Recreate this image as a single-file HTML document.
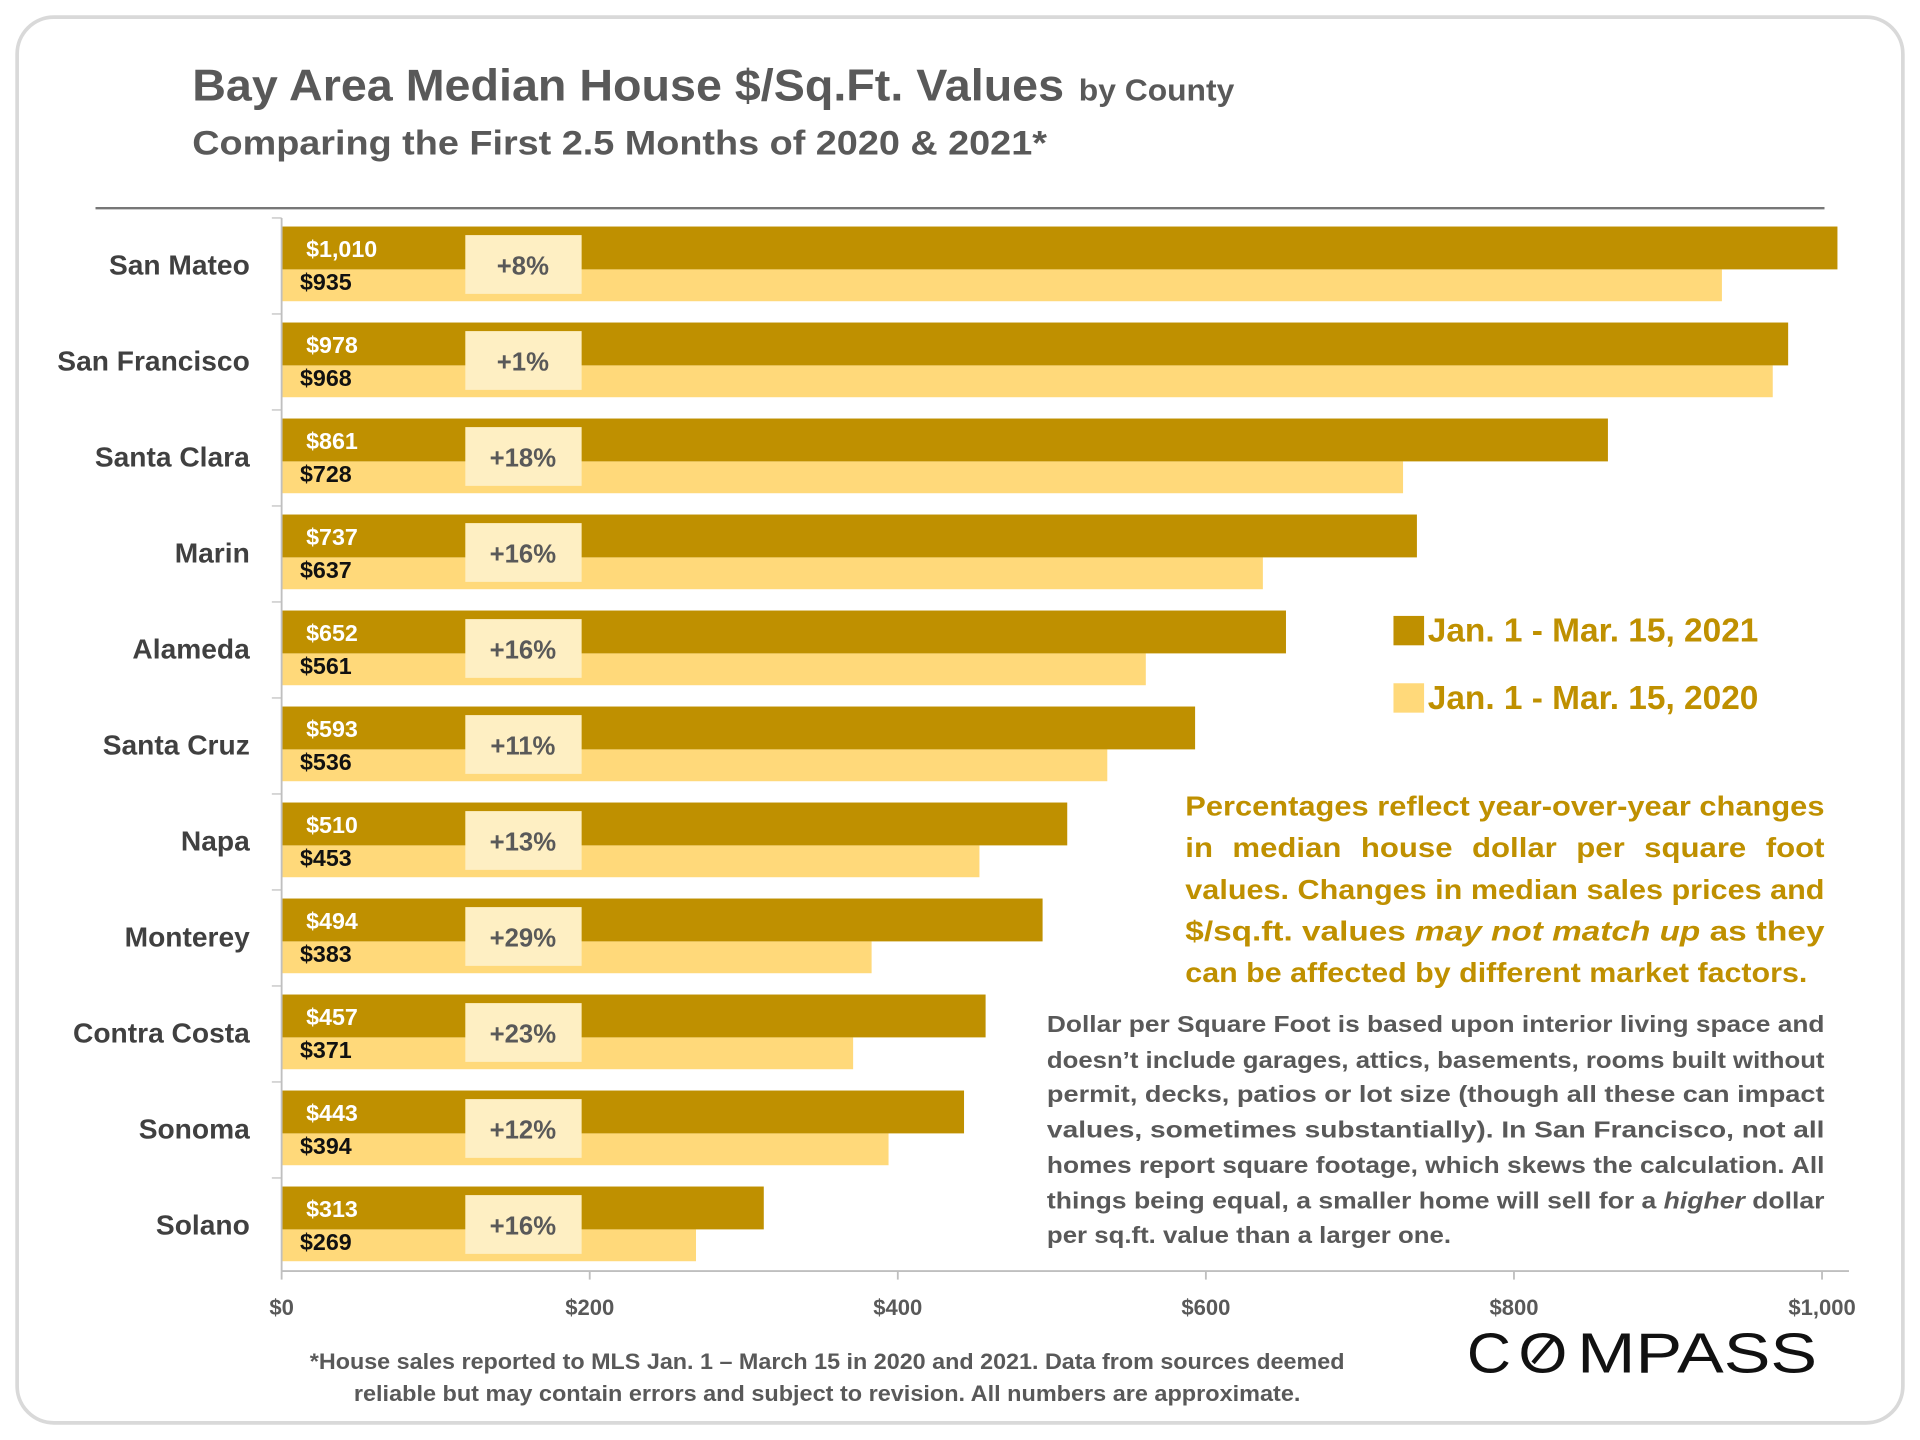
<!DOCTYPE html>
<html><head><meta charset="utf-8"><style>
html,body{margin:0;padding:0;background:#fff;}
svg{display:block;}
text{font-family:"Liberation Sans",sans-serif;font-weight:bold;}
</style></head><body>
<svg id="chart" width="1920" height="1440" viewBox="0 0 1568 1176" xmlns="http://www.w3.org/2000/svg">
<rect x="14" y="14" width="1540" height="1148" rx="30" fill="#fff" stroke="#d9d9d9" stroke-width="3"/>
<text x="157" y="82" font-size="36" fill="#595959" textLength="712" lengthAdjust="spacingAndGlyphs">Bay Area Median House $/Sq.Ft. Values</text>
<text x="881" y="82" font-size="25" fill="#595959" textLength="127" lengthAdjust="spacingAndGlyphs">by County</text>
<text x="157" y="126" font-size="28" fill="#595959" textLength="698" lengthAdjust="spacingAndGlyphs">Comparing the First 2.5 Months of 2020 &amp; 2021*</text>
<line x1="78" y1="170" x2="1490" y2="170" stroke="#777" stroke-width="2"/>
<g id="plot"></g>
<rect x="1138" y="503" width="25" height="24" fill="#BF9000"/>
<text x="1166" y="524" font-size="27" fill="#BF9000" textLength="270" lengthAdjust="spacingAndGlyphs">Jan. 1 - Mar. 15, 2021</text>
<rect x="1138" y="558" width="25" height="24" fill="#FFD97A"/>
<text x="1166" y="579" font-size="27" fill="#BF9000" textLength="270" lengthAdjust="spacingAndGlyphs">Jan. 1 - Mar. 15, 2020</text>
<g font-size="23" fill="#BF9000">
<text x="968" y="666" textLength="522" lengthAdjust="spacingAndGlyphs">Percentages reflect year-over-year changes</text>
<text x="968" y="700" textLength="522" lengthAdjust="spacingAndGlyphs" word-spacing="8">in median house dollar per square foot</text>
<text x="968" y="734" textLength="522" lengthAdjust="spacingAndGlyphs">values. Changes in median sales prices and</text>
<text x="968" y="768" textLength="522" lengthAdjust="spacingAndGlyphs">$/sq.ft. values <tspan font-style="italic">may not match up</tspan> as they</text>
<text x="968" y="802" textLength="508" lengthAdjust="spacingAndGlyphs">can be affected by different market factors.</text>
</g>
<g font-size="19" fill="#595959">
<text x="855" y="843" textLength="635" lengthAdjust="spacingAndGlyphs">Dollar per Square Foot is based upon interior living space and</text>
<text x="855" y="872" textLength="635" lengthAdjust="spacingAndGlyphs">doesn’t include garages, attics, basements, rooms built without</text>
<text x="855" y="900" textLength="635" lengthAdjust="spacingAndGlyphs">permit, decks, patios or lot size (though all these can impact</text>
<text x="855" y="929" textLength="635" lengthAdjust="spacingAndGlyphs">values, sometimes substantially). In San Francisco, not all</text>
<text x="855" y="958" textLength="635" lengthAdjust="spacingAndGlyphs">homes report square footage, which skews the calculation. All</text>
<text x="855" y="987" textLength="635" lengthAdjust="spacingAndGlyphs">things being equal, a smaller home will sell for a <tspan font-style="italic">higher</tspan> dollar</text>
<text x="855" y="1015" textLength="330" lengthAdjust="spacingAndGlyphs">per sq.ft. value than a larger one.</text>
</g>
<g font-size="18" fill="#595959">
<text x="253" y="1118" textLength="845" lengthAdjust="spacingAndGlyphs">*House sales reported to MLS Jan. 1 – March 15 in 2020 and 2021. Data from sources deemed</text>
<text x="289" y="1144" textLength="773" lengthAdjust="spacingAndGlyphs">reliable but may contain errors and subject to revision.  All numbers are approximate.</text>
</g>
<g fill="#111" font-size="46">
<text x="1198" y="1121" style="font-weight:normal" textLength="36" lengthAdjust="spacingAndGlyphs">C</text>
<text x="1240" y="1121" style="font-weight:normal" textLength="40" lengthAdjust="spacingAndGlyphs">O</text>
<text x="1288" y="1121" style="font-weight:normal" textLength="196" lengthAdjust="spacingAndGlyphs">MPASS</text>
<line x1="1252" y1="1113" x2="1268" y2="1094" stroke="#111" stroke-width="3.5"/>
</g>
</svg>
<script>
const categories=["San Mateo","San Francisco","Santa Clara","Marin","Alameda","Santa Cruz","Napa","Monterey","Contra Costa","Sonoma","Solano"];
const values2021=[1010,978,861,737,652,593,510,494,457,443,313];
const values2020=[935,968,728,637,561,536,453,383,371,394,269];
const pctLabels=["+8%","+1%","+18%","+16%","+16%","+11%","+13%","+29%","+23%","+12%","+16%"];
const xTicks=[0,200,400,600,800,1000];
const xTickLabels=["$0","$200","$400","$600","$800","$1,000"];

const NS="http://www.w3.org/2000/svg";
const g=document.getElementById('plot');
const X0=230,X1=1488,top0=178,band=78.4;
const x=v=>X0+(v/1000)*(X1-X0);
const yb=i=>top0+i*band;
function mk(tag,attrs,txt){const e=document.createElementNS(NS,tag);for(const k in attrs)e.setAttribute(k,attrs[k]);if(txt!=null)e.textContent=txt;g.appendChild(e);return e;}
const fmt=v=>"$"+v.toLocaleString("en-US");

categories.forEach((c,i)=>{
  const y=yb(i);
  let e=mk('rect',{x:X0,y:y+42,width:x(values2020[i])-X0,height:26,fill:'#FFD97A'});
  
  
  e=mk('rect',{x:X0,y:y+7,width:x(values2021[i])-X0,height:35,fill:'#BF9000'});
  
  
  e=mk('text',{x:250,y:y+32,'font-size':19,fill:'#fff'},fmt(values2021[i]));
  
  
  e=mk('text',{x:245,y:y+59,'font-size':19,fill:'#111'},fmt(values2020[i]));
  
  
  e=mk('rect',{x:380,y:y+14,width:95,height:48,fill:'#FEEFC3'});
  
  
  e=mk('text',{x:427,y:y+46,'font-size':21,fill:'#595959','text-anchor':'middle'},pctLabels[i]);
  
  
  e=mk('text',{x:204,y:y+46,'font-size':23,fill:'#404040','text-anchor':'end'},c);
  
  
  e=mk('line',{x1:222,x2:230,y1:y,y2:y,stroke:'#bfbfbf','stroke-width':1});
  
  
});
let ax=mk('line',{x1:X0,x2:X0,y1:top0,y2:1038,stroke:'#bfbfbf','stroke-width':1.5});


ax=mk('line',{x1:X0,x2:1510,y1:1038,y2:1038,stroke:'#bfbfbf','stroke-width':1.5});


xTicks.forEach((t,i)=>{
  let e=mk('line',{x1:x(t),x2:x(t),y1:1038,y2:1045,stroke:'#bfbfbf','stroke-width':1.5});
  
  
  e=mk('text',{x:x(t),y:1074,'font-size':18,fill:'#595959','text-anchor':'middle'},xTickLabels[i]);
  
  
});
</script>
</body></html>
